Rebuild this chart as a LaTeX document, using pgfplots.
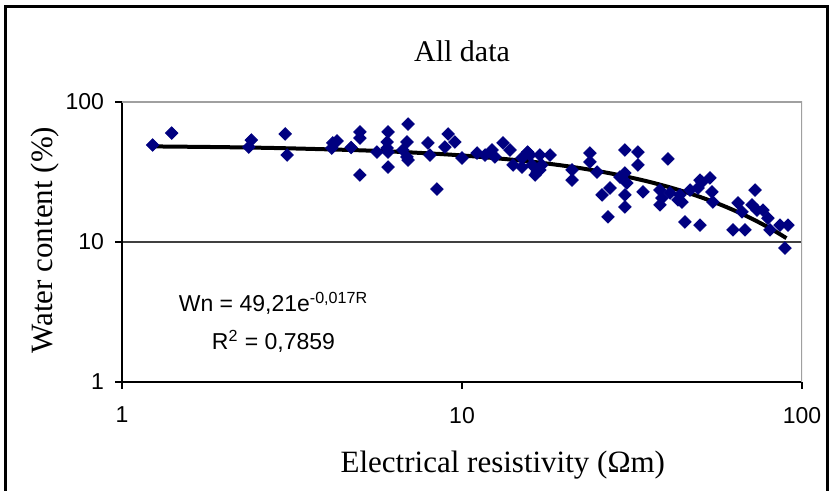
\documentclass[border=0pt]{standalone}
\usepackage{fontspec}
\setmainfont{Liberation Serif}
\setsansfont{Liberation Sans}
\usepackage{pgfplots}
\pgfplotsset{compat=1.18}
\definecolor{pts}{RGB}{0,0,128}
\definecolor{frameg}{RGB}{160,160,160}
\begin{document}
\begin{tikzpicture}
\path[use as bounding box] (-61pt,-54.5pt) rectangle (355.5pt,191pt);
\draw[black, line width=1.5pt] (-58pt,-56pt) -- (-58pt,187.5pt) -- (352.5pt,187.5pt) -- (352.5pt,-56pt);
\begin{axis}[
  at={(0pt,0pt)}, anchor=south west,
  width=340pt, height=140pt, scale only axis,
  xmode=log, ymode=log,
  xmin=1, xmax=100, ymin=1, ymax=100,
  axis x line*=bottom, axis y line*=left,
  axis line style={black, line width=1pt},
  xtick={1,10,100}, xticklabels={1,10,100},
  ytick={1,10,100}, yticklabels={1,10,100},
  xminorticks=false, yminorticks=false,
  tick align=outside, major tick length=3.5pt,
  tick style={black, line width=0.8pt},
  ymajorgrids, major grid style={black!75, line width=0.6pt},
  ticklabel style={font=\sffamily\fontsize{11.5}{13}\selectfont},
  xticklabel style={yshift=-5.5pt},
  yticklabel style={xshift=-2pt},
  xlabel={Electrical resistivity (Ωm)},
  ylabel={Water content (\%)},
  label style={font=\fontsize{15.5}{18}\selectfont},
  x label style={at={(axis description cs:0.56,-0.325)}, anchor=base},
  y label style={at={(axis description cs:-0.113,0.507)}, anchor=center},
]
\addplot[only marks, mark=square*, mark size=2.2pt, mark options={rotate=45, fill=pts, draw=pts}] coordinates {
(1.23,49.3) (1.40,60.0) (2.40,53.5) (2.36,47.7) (3.02,59.1) (3.06,41.8)
(4.17,51.0) (4.29,52.7) (4.14,46.9) (4.72,47.3) (5.01,61.1) (5.01,55.3)
(5.01,30.1) (5.62,43.9) (6.06,61.1) (6.02,51.8) (6.02,46.9) (6.06,43.9)
(6.06,34.3) (6.94,69.6) (6.89,51.8) (6.70,45.4) (6.89,40.5) (6.94,38.5)
(7.94,51.0) (8.05,41.8) (8.44,23.9) (9.10,59.1) (9.53,51.8) (8.91,47.7)
(10.0,39.8) (11.07,43.2) (11.69,41.8) (12.25,45.4) (12.5,40.5) (13.20,51.0)
(13.84,45.4) (14.13,35.5) (15.01,39.8) (15.01,34.3) (15.6,43.9) (15.85,41.8)
(16.07,35.5) (16.4,30.1) (16.62,31.6) (16.95,41.8) (17.18,35.5) (16.95,32.7)
(18.15,41.8) (21.07,32.7) (21.07,27.7) (23.79,43.2) (23.79,37.3) (24.95,31.6)
(30.14,45.4) (32.93,43.9) (32.93,35.5) (30.14,31.1) (29.15,29.1) (30.55,26.4)
(27.24,24.3) (25.82,21.7) (30.14,21.7) (30.14,17.8) (26.88,15.1) (34.08,22.8)
(40.34,39.2) (38.22,23.5) (38.22,18.4) (40.91,22.4) (43.76,21.7) (44.36,19.3)
(50.12,27.7) (53.60,28.7) (49.44,24.3) (54.33,22.8) (54.70,19.3) (45.26,13.9)
(50.12,13.2) (46.85,23.5) (38.74,20.6) (43.18,20.0) (50.80,26.8) (64.85,19.0)
(72.75,23.5) (71.27,18.4) (66.62,16.4) (62.66,12.2) (67.98,12.2) (73.75,16.9)
(76.77,16.9) (79.41,14.8) (80.5,12.2) (86.2,13.2) (90.9,13.2) (89.1,9.06)
};
\addplot[black, line width=2pt, no marks, smooth] coordinates {
(1.23,48.18) (2,47.57) (3,46.76) (5,45.20) (7,43.69) (10,41.52) (15,38.13)
(20,35.03) (25,32.17) (30,29.55) (35,27.15) (40,24.93) (45,22.90) (50,21.03)
(55,19.32) (60,17.75) (65,16.30) (70,14.97) (75,13.75) (80,12.63) (85,11.60) (90,10.65)
};
\draw[frameg, line width=1.5pt] (rel axis cs:0,1) -- (rel axis cs:1,1) -- (rel axis cs:1,0);
\end{axis}
\node[font=\fontsize{15}{18}\selectfont, anchor=base] at (170pt,160pt) {All data};
\node[font=\sffamily\fontsize{11.5}{14}\selectfont, anchor=base] at (75.75pt,35pt) {Wn = 49,21e\textsuperscript{-0,017R}};
\node[font=\sffamily\fontsize{11.5}{14}\selectfont, anchor=base] at (75.75pt,16pt) {R\textsuperscript{2} = 0,7859};
\end{tikzpicture}
\end{document}
